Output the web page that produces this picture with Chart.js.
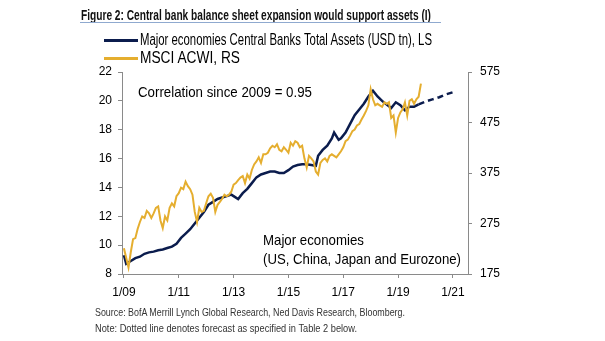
<!DOCTYPE html>
<html>
<head>
<meta charset="utf-8">
<script src="https://cdn.jsdelivr.net/npm/chart.js@4.4.1/dist/chart.umd.min.js"></script>
<style>
  html, body { margin:0; padding:0; background:#fff; }
  #wrap { position:relative; width:605px; height:341px; overflow:hidden; font-family:"Liberation Sans", Arial, sans-serif; }
  #c { position:absolute; left:0; top:0; }
  .txt { position:absolute; white-space:nowrap; transform-origin:0 50%; line-height:1; }
  #title { left:81px; top:7px; font-weight:bold; font-size:15px; color:#111; }
  #rule { position:absolute; left:80px; top:22px; width:361px; height:0; border-top:1.5px solid #8fa9cf; }
  .leg { font-size:16px; color:#000; }
  .swatch { position:absolute; width:34px; height:0; }
  .note { font-size:10.5px; color:#333; }
  .ann { font-size:15px; color:#000; }
</style>
</head>
<body>
<div id="wrap">
  <canvas id="c" width="605" height="341"></canvas>
  <div id="title" class="txt" data-w="350">Figure 2: Central bank balance sheet expansion would support assets (I)</div>
  <div id="rule"></div>
  <div class="swatch" style="left:104px;top:39px;border-top:3px solid #0b1c4d"></div>
  <div class="txt leg" style="left:140px;top:32px" data-w="292">Major economies Central Banks Total Assets (USD tn), LS</div>
  <div class="swatch" style="left:104px;top:57px;border-top:3px solid #e5ae2f"></div>
  <div class="txt leg" style="left:140px;top:50px" data-w="100">MSCI ACWI, RS</div>
  <div class="txt ann" style="left:138px;top:84px" data-w="174">Correlation since 2009 = 0.95</div>
  <div class="txt ann" style="left:263px;top:232px" data-w="101">Major economies</div>
  <div class="txt ann" style="left:263px;top:251px" data-w="198">(US, China, Japan and Eurozone)</div>
  <div class="txt note" style="left:95px;top:307px" data-w="310">Source: BofA Merrill Lynch Global Research, Ned Davis Research, Bloomberg.</div>
  <div class="txt note" style="left:95px;top:323px" data-w="262">Note: Dotted line denotes forecast as specified in Table 2 below.</div>
</div>
<script>
// central bank total assets, USD tn (left scale)
var cbDates = ['2009-01','2009-02','2009-04','2009-06','2009-08','2009-10','2009-12','2010-02','2010-04','2010-06','2010-08','2010-10','2010-12',
  '2011-02','2011-04','2011-06','2011-08','2011-10','2011-12','2012-02','2012-04','2012-06','2012-08','2012-10','2012-12',
  '2013-01','2013-03','2013-05','2013-07','2013-09','2013-11','2014-01','2014-03','2014-05','2014-07','2014-09','2014-11',
  '2015-01','2015-03','2015-05','2015-07','2015-09','2015-11','2016-01','2016-02','2016-04','2016-06','2016-08','2016-09',
  '2016-11','2016-12','2017-02','2017-04','2017-06','2017-08','2017-10','2017-12','2018-02','2018-04','2018-06','2018-08',
  '2018-10','2018-12','2019-02','2019-04','2019-06','2019-08','2019-10'];
var cbAssets = [9.3,8.7,8.9,9.1,9.2,9.4,9.5,9.55,9.65,9.7,9.8,9.9,10.1,
  10.5,10.8,11.1,11.5,11.9,12.3,12.8,13.0,13.2,13.3,13.4,13.5,
  13.4,13.2,13.6,13.9,14.3,14.7,14.9,15.0,15.1,15.1,15.0,15.0,
  15.2,15.45,15.55,15.6,15.6,15.55,15.5,16.2,16.6,16.9,17.4,17.8,
  17.3,17.4,17.8,18.4,19.0,19.4,19.8,20.3,20.7,20.3,20.0,19.75,
  19.5,19.9,19.7,19.35,19.6,19.6,19.75];
var cbForecastDates = ['2019-10','2020-01','2020-04','2020-07','2020-10','2021-01'];
var cbForecast = [19.75,19.95,20.1,20.25,20.45,20.6];

// MSCI ACWI (right scale)
var acwiDates = ['2009-01','2009-03','2009-04','2009-05','2009-06','2009-07','2009-08','2009-09','2009-10','2009-11','2009-12',
  '2010-01','2010-02','2010-03','2010-04','2010-05','2010-06','2010-07','2010-08','2010-09','2010-10','2010-11','2010-12',
  '2011-01','2011-02','2011-03','2011-04','2011-05','2011-06','2011-07','2011-08','2011-09','2011-10','2011-11','2011-12',
  '2012-01','2012-02','2012-03','2012-04','2012-05','2012-06','2012-07','2012-08','2012-09','2012-10','2012-11','2012-12',
  '2013-01','2013-02','2013-03','2013-04','2013-05','2013-06','2013-07','2013-08','2013-09','2013-10','2013-11','2013-12',
  '2014-01','2014-02','2014-03','2014-04','2014-05','2014-06','2014-07','2014-08','2014-09','2014-10','2014-11','2014-12',
  '2015-01','2015-02','2015-03','2015-04','2015-05','2015-06','2015-07','2015-08','2015-09','2015-10','2015-11','2015-12',
  '2016-01','2016-02','2016-03','2016-04','2016-05','2016-06','2016-07','2016-08','2016-09','2016-10','2016-11','2016-12',
  '2017-01','2017-02','2017-03','2017-04','2017-05','2017-06','2017-07','2017-08','2017-09','2017-10','2017-11','2017-12',
  '2018-01','2018-02','2018-03','2018-04','2018-05','2018-06','2018-07','2018-08','2018-09','2018-10','2018-11','2018-12',
  '2019-01','2019-02','2019-03','2019-04','2019-05','2019-06','2019-07','2019-08','2019-09','2019-10','2019-11'];
var acwiValues = [226,188,218,244,246,264,278,289,286,300,295,
  286,295,306,309,281,266,289,281,306,315,309,329,
  335,346,343,358,349,343,332,298,278,306,298,300,
  315,329,334,326,298,312,318,324,332,329,332,338,
  352,355,361,366,369,355,372,364,381,392,398,406,
  395,412,412,415,424,429,426,432,421,418,426,421,
  415,435,429,438,435,426,429,404,386,409,404,398,
  378,372,395,401,404,398,409,412,409,406,412,418,
  426,438,441,449,458,461,469,472,481,489,498,509,
  541,521,509,512,509,506,515,512,515,484,489,455,
  484,495,501,515,489,518,521,512,521,526,552];

var xTickYears = [2009,2011,2013,2015,2017,2019,2021];
var xTickLabels = ['1/09','1/11','1/13','1/15','1/17','1/19','1/21'];
var leftTicks = [8,10,12,14,16,18,20,22];
var rightTicks = [175,275,375,475,575];

function toYear(d){ var p = d.split('-'); return +p[0] + (+p[1]-1)/12; }
function pts(dates, vals){ return dates.map(function(d,i){ return {x: toYear(d), y: vals[i]}; }); }

function hasFont(name){
  var g = document.createElement('canvas').getContext('2d');
  g.font = '40px monospace'; var a = g.measureText('Major economies 1/09').width;
  g.font = '40px "' + name + '", monospace';
  return g.measureText('Major economies 1/09').width !== a;
}
var narrow = hasFont('Liberation Sans Narrow');
var tickFont = narrow ? {family:'"Liberation Sans Narrow"', size:14} : {family:'"Liberation Sans", Arial', size:12};
if (narrow) document.getElementById('wrap').style.fontFamily = '"Liberation Sans Narrow", "Liberation Sans", Arial, sans-serif';

// squeeze html labels to the widths in the original
document.querySelectorAll('[data-w]').forEach(function(el){
  var w = el.getBoundingClientRect().width;
  el.style.transform = 'scaleX(' + (+el.dataset.w / w) + ')';
});

var axisCol = '#8a8a8a';
function axisGrid(){ return {display:true, drawOnChartArea:false, drawTicks:true, tickLength:4, color:axisCol}; }

new Chart(document.getElementById('c').getContext('2d'), {
  type: 'line',
  data: {
    datasets: [
      {label:'MSCI ACWI, RS', data: pts(acwiDates, acwiValues), yAxisID:'y2',
        borderColor:'#e5ae2f', borderWidth:2, pointRadius:0, tension:0},
      {label:'Major economies Central Banks Total Assets (USD tn), LS', data: pts(cbDates, cbAssets), yAxisID:'y',
        borderColor:'#0b1c4d', borderWidth:2.5, pointRadius:0, tension:0},
      {label:'forecast', data: pts(cbForecastDates, cbForecast), yAxisID:'y',
        borderColor:'#0b1c4d', borderWidth:2.5, borderDash:[6,4], pointRadius:0, tension:0}
    ]
  },
  options: {
    responsive:false, animation:false,
    layout:{padding:{top:72, left:0, right:0, bottom:0}},
    plugins:{legend:{display:false}, tooltip:{enabled:false}},
    scales: {
      x: {type:'linear', min:2008.93, max:2021.55,
        afterFit: function(s){ s.height = 67; },
        afterBuildTicks: function(s){ s.ticks = xTickYears.map(function(v){ return {value:v}; }); },
        ticks:{autoSkip:false, maxRotation:0, padding:7, color:'#000', font:tickFont,
          callback:function(v){ var i = xTickYears.indexOf(v); return i < 0 ? '' : xTickLabels[i]; }},
        grid:axisGrid(), border:{display:true, color:axisCol, width:1}},
      y: {position:'left', min:8, max:22,
        afterFit: function(s){ s.width = 122; },
        afterBuildTicks: function(s){ s.ticks = leftTicks.map(function(v){ return {value:v}; }); },
        ticks:{padding:6, color:'#000', font:tickFont},
        grid:axisGrid(), border:{display:true, color:axisCol, width:1}},
      y2: {position:'right', min:175, max:575,
        afterFit: function(s){ s.width = 137; },
        afterBuildTicks: function(s){ s.ticks = rightTicks.map(function(v){ return {value:v}; }); },
        ticks:{padding:8, color:'#000', font:tickFont},
        grid:axisGrid(), border:{display:true, color:axisCol, width:1}}
    }
  }
});
</script>
</body>
</html>
